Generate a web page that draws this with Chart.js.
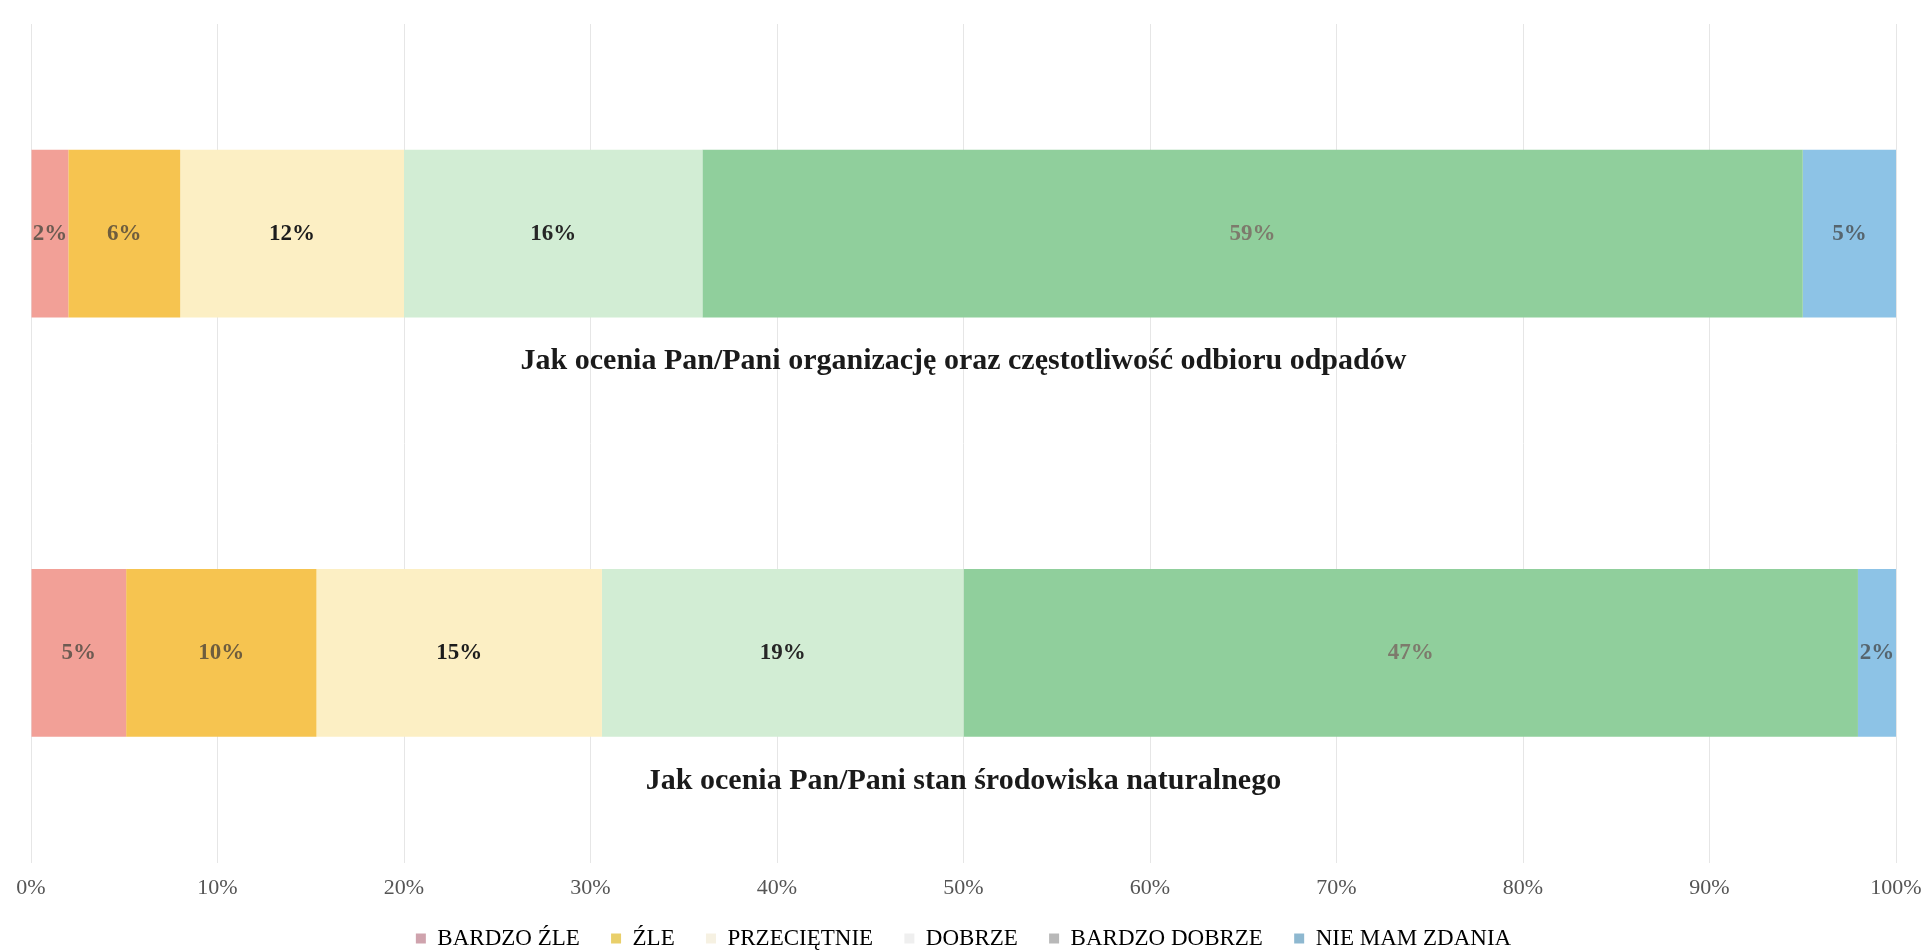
<!DOCTYPE html>
<html>
<head>
<meta charset="utf-8">
<script src="https://cdn.jsdelivr.net/npm/chart.js@4.4.1/dist/chart.umd.min.js"></script>
<style>
    html, body { margin: 0; padding: 0; background: #ffffff; }
    #wrap { width: 1929px; height: 951px; position: relative; }
</style>
</head>
<body>
<div id="wrap"><canvas id="ratingChart"></canvas></div>
<script>
// Survey answers (percent labels as printed on the bars)
const categories = [
    'Jak ocenia Pan/Pani organizację oraz częstotliwość odbioru odpadów',
    'Jak ocenia Pan/Pani stan środowiska naturalnego'
];
const seriesNames = ['BARDZO ŹLE', 'ŹLE', 'PRZECIĘTNIE', 'DOBRZE', 'BARDZO DOBRZE', 'NIE MAM ZDANIA'];
const bardzoZle = [2, 5];
const zle = [6, 10];
const przecietnie = [12, 15];
const dobrze = [16, 19];
const bardzoDobrze = [59, 47];
const nieMamZdania = [5, 2];
const xTickValues = [0, 10, 20, 30, 40, 50, 60, 70, 80, 90, 100];

const seriesValues = [bardzoZle, zle, przecietnie, dobrze, bardzoDobrze, nieMamZdania];
const barColors = ['#f2a097', '#f6c450', '#fcefc4', '#d2edd4', '#90cf9c', '#8dc3e6'];
const legendColors = ['#cfa3ad', '#e9cf6a', '#f6f1e2', '#efefef', '#b8b8b8', '#8eb8d0'];
const labelColors = ['#6d5b52', '#6e5d3e', '#1c1c1c', '#262626', '#7d7a6c', '#56656e'];

// 100% stacked: normalise every category to its total
const totals = categories.map((c, i) => seriesValues.reduce((s, arr) => s + arr[i], 0));

const datasets = seriesNames.map((name, k) => ({
    label: name,
    data: seriesValues[k].map((v, i) => v / totals[i] * 100),
    raw: seriesValues[k],
    backgroundColor: barColors[k],
    borderWidth: 0,
    barPercentage: 1,
    categoryPercentage: 0.4
}));

const serif = "'Liberation Serif', 'Times New Roman', serif";

// Percent labels inside the segments
const segmentLabels = {
    id: 'segmentLabels',
    afterDatasetsDraw(chart) {
        const ctx = chart.ctx;
        ctx.save();
        ctx.font = 'bold 23px ' + serif;
        ctx.textAlign = 'center';
        ctx.textBaseline = 'middle';
        chart.data.datasets.forEach((ds, k) => {
            const meta = chart.getDatasetMeta(k);
            meta.data.forEach((bar, i) => {
                const p = bar.getProps(['x', 'base', 'y'], true);
                ctx.fillStyle = labelColors[k];
                ctx.fillText(ds.raw[i] + '%', (p.x + p.base) / 2, p.y);
            });
        });
        ctx.restore();
    }
};

// Question text under each bar
const categoryTitles = {
    id: 'categoryTitles',
    afterDraw(chart) {
        const ctx = chart.ctx;
        const area = chart.chartArea;
        const yScale = chart.scales.y;
        ctx.save();
        ctx.font = 'bold 30px ' + serif;
        ctx.fillStyle = '#1a1a1a';
        ctx.textAlign = 'center';
        ctx.textBaseline = 'middle';
        categories.forEach((c, i) => {
            ctx.fillText(c, (area.left + area.right) / 2, yScale.getPixelForValue(i) + 128);
        });
        ctx.restore();
    }
};

new Chart(document.getElementById('ratingChart'), {
    type: 'bar',
    data: { labels: categories, datasets: datasets },
    options: {
        indexAxis: 'y',
        responsive: true,
        maintainAspectRatio: false,
        animation: false,
        layout: { padding: { left: 31, right: 33, top: 24, bottom: -9 } },
        plugins: {
            tooltip: { enabled: false },
            legend: {
                position: 'bottom',
                labels: {
                    font: { family: serif, size: 23 },
                    color: '#4a4a4a',
                    boxWidth: 10,
                    boxHeight: 10,
                    padding: 14,
                    // extra spacing after each entry, like the original legend
                    generateLabels: (chart) => seriesNames.map((name, k) => ({
                        text: k < seriesNames.length - 1 ? name + '   ' : name,
                        fillStyle: legendColors[k],
                        strokeStyle: legendColors[k],
                        lineWidth: 0,
                        datasetIndex: k
                    }))
                }
            }
        },
        scales: {
            x: {
                stacked: true,
                min: 0,
                max: 100,
                afterBuildTicks: (axis) => { axis.ticks = xTickValues.map(v => ({ value: v })); },
                // let the layout padding alone decide the plot edges
                afterFit: (axis) => { axis.paddingLeft = 0; axis.paddingRight = 0; },
                ticks: {
                    callback: (v) => v + '%',
                    font: { family: serif, size: 22 },
                    color: '#555555',
                    padding: 12
                },
                grid: { color: '#e6e6e6', drawTicks: false },
                border: { display: false }
            },
            y: {
                stacked: true,
                display: false
            }
        }
    },
    plugins: [segmentLabels, categoryTitles]
});
</script>
</body>
</html>
